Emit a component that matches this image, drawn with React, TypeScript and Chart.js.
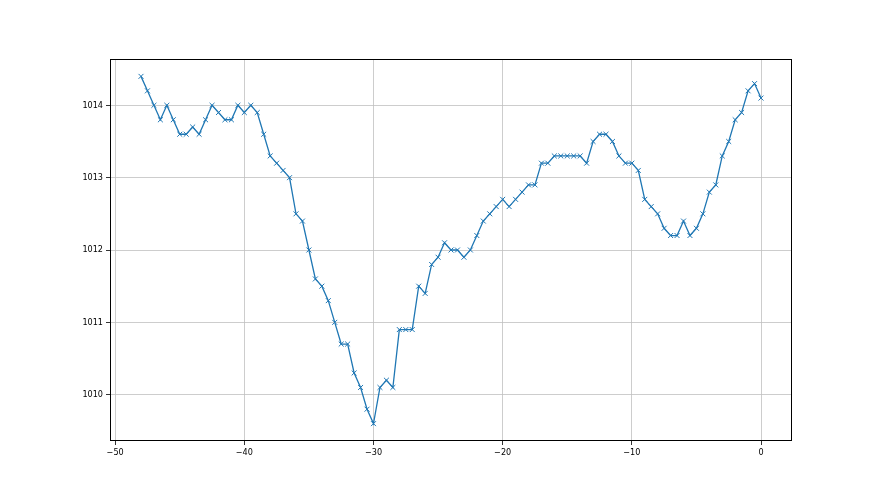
import React, { useEffect, useRef } from "react";
import { Chart, registerables } from "chart.js";

Chart.register(...registerables);

const xStart = -48;
const xStep = 0.5;
const pressure: number[] = [
  1014.4, 1014.2, 1014.0, 1013.8, 1014.0, 1013.8, 1013.6, 1013.6, 1013.7, 1013.6,
  1013.8, 1014.0, 1013.9, 1013.8, 1013.8, 1014.0, 1013.9, 1014.0, 1013.9, 1013.6,
  1013.3, 1013.2, 1013.1, 1013.0, 1012.5, 1012.4, 1012.0, 1011.6, 1011.5, 1011.3,
  1011.0, 1010.7, 1010.7, 1010.3, 1010.1, 1009.8, 1009.6, 1010.1, 1010.2, 1010.1,
  1010.9, 1010.9, 1010.9, 1011.5, 1011.4, 1011.8, 1011.9, 1012.1, 1012.0, 1012.0,
  1011.9, 1012.0, 1012.2, 1012.4, 1012.5, 1012.6, 1012.7, 1012.6, 1012.7, 1012.8,
  1012.9, 1012.9, 1013.2, 1013.2, 1013.3, 1013.3, 1013.3, 1013.3, 1013.3, 1013.2,
  1013.5, 1013.6, 1013.6, 1013.5, 1013.3, 1013.2, 1013.2, 1013.1, 1012.7, 1012.6,
  1012.5, 1012.3, 1012.2, 1012.2, 1012.4, 1012.2, 1012.3, 1012.5, 1012.8, 1012.9,
  1013.3, 1013.5, 1013.8, 1013.9, 1014.2, 1014.3, 1014.1,
];
const xTicks: number[] = [-50, -40, -30, -20, -10, 0];
const yTicks: number[] = [1010, 1011, 1012, 1013, 1014];

const FONT = "'DejaVu Sans Condensed', 'DejaVu Sans', sans-serif";

export default function App() {
  const ref = useRef<HTMLCanvasElement | null>(null);
  useEffect(() => {
    if (!ref.current) return;
    const points = pressure.map((v, i) => ({ x: xStart + i * xStep, y: v }));
    const xs = points.map((p) => p.x);
    const xMinD = Math.min(...xs), xMaxD = Math.max(...xs);
    const yMinD = Math.min(...pressure), yMaxD = Math.max(...pressure);
    const xm = (xMaxD - xMinD) * 0.05, ym = (yMaxD - yMinD) * 0.05;

    const frame = {
      id: "frame",
      afterDraw(chart: any) {
        const { ctx, chartArea: a } = chart;
        ctx.save();
        ctx.strokeStyle = "#000";
        ctx.lineWidth = 1;
        ctx.strokeRect(Math.round(a.left) + 0.5, Math.round(a.top) + 0.5, Math.round(a.right - a.left) - 1, Math.round(a.bottom - a.top) - 1);
        ctx.restore();
      },
    };

    const chart = new Chart(ref.current, {
      type: "line",
      data: {
        datasets: [
          {
            data: points,
            borderColor: "#1f77b4",
            borderWidth: 1.3,
            pointStyle: "crossRot",
            pointRadius: 3.5,
            pointBorderWidth: 1,
            pointBorderColor: "#1f77b4",
            pointBackgroundColor: "#1f77b4",
            tension: 0,
            fill: false,
          },
        ],
      },
      options: {
        responsive: false,
        animation: false,
        events: [],
        layout: { padding: { left: 0, top: 59, right: 88, bottom: 0 } },
        plugins: { legend: { display: false }, tooltip: { enabled: false } },
        scales: {
          x: {
            type: "linear",
            min: xMinD - xm,
            max: xMaxD + xm,
            afterFit(s: any) { s.height = 54; },
            afterBuildTicks(s: any) { s.ticks = xTicks.map((v) => ({ value: v })); },
            border: { display: false },
            grid: { color: "#c0c0c0", lineWidth: 0.8, tickColor: "#000", tickLength: 4, drawTicks: true },
            ticks: {
              color: "#000",
              font: { family: FONT, size: 9 },
              padding: 2,
              maxRotation: 0,
              callback: (v: any) => String(v).replace("-", "\u2212"),
            },
          },
          y: {
            type: "linear",
            min: yMinD - ym,
            max: yMaxD + ym,
            afterFit(s: any) { s.width = 110; },
            afterBuildTicks(s: any) { s.ticks = yTicks.map((v) => ({ value: v })); },
            border: { display: false },
            grid: { color: "#c0c0c0", lineWidth: 0.8, tickColor: "#000", tickLength: 4, drawTicks: true },
            ticks: {
              color: "#000",
              font: { family: FONT, size: 9 },
              padding: 3,
              callback: (v: any) => String(v),
            },
          },
        },
      },
      plugins: [frame],
    });
    return () => chart.destroy();
  }, []);
  return (
    <div style={{ position: "absolute", left: 0, top: 0, width: 880, height: 495, background: "#fff" }}>
      <canvas ref={ref} width={880} height={495} style={{ display: "block" }} />
    </div>
  );
}
